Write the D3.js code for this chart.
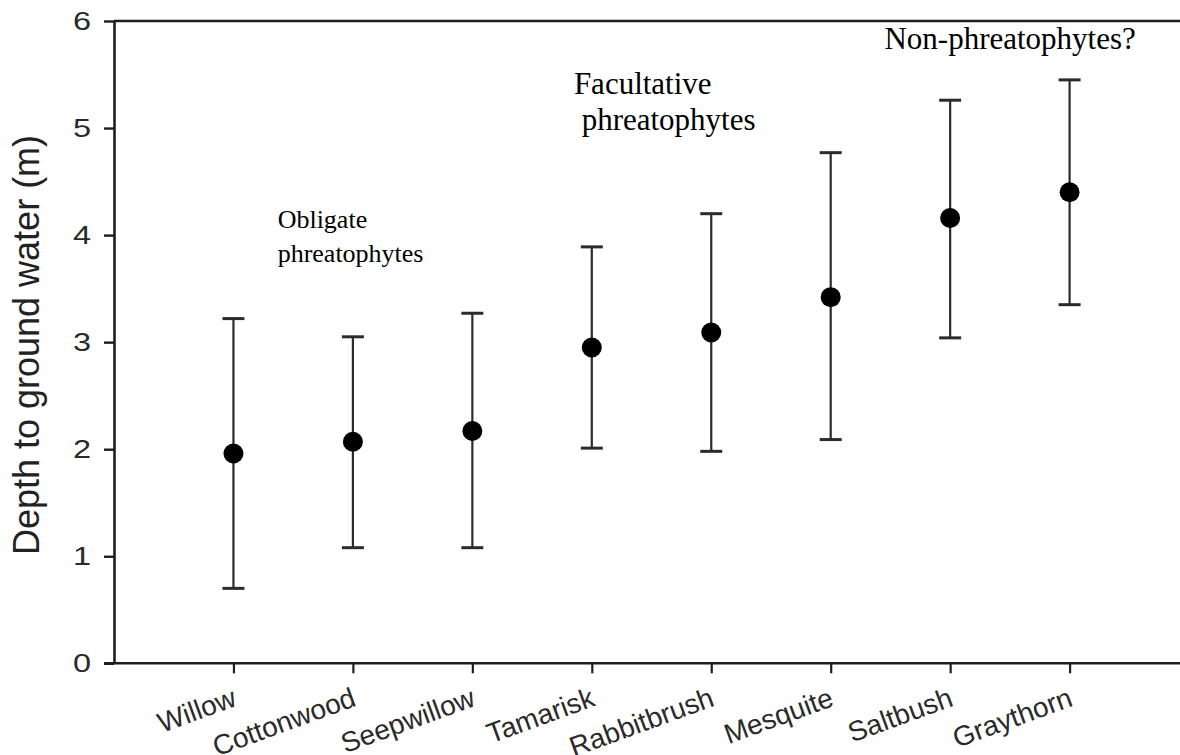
<!DOCTYPE html>
<html>
<head>
<meta charset="utf-8">
<script src="https://cdn.jsdelivr.net/npm/d3@7"></script>
<style>
  html, body { margin: 0; padding: 0; background: #fff; }
  svg { display: block; }
</style>
</head>
<body>
<svg id="chart" width="1180" height="755"></svg>
<script>
// ---- data ----
const categories = ["Willow", "Cottonwood", "Seepwillow", "Tamarisk", "Rabbitbrush", "Mesquite", "Saltbush", "Graythorn"];
const means = [1.96, 2.07, 2.17, 2.95, 3.09, 3.42, 4.16, 4.40];
const lowers = [0.70, 1.08, 1.08, 2.01, 1.98, 2.09, 3.04, 3.35];
const uppers = [3.22, 3.05, 3.27, 3.89, 4.20, 4.77, 5.26, 5.45];
const yTicks = [0, 1, 2, 3, 4, 5, 6];
const yTitle = "Depth to ground water (m)";
const groupLabels = [
  { lines: ["Obligate", "phreatophytes"], pos: 1.37, val: 4.07, size: 26, gap: 34 },
  { lines: ["Facultative", " phreatophytes"], pos: 3.85, val: 5.32, size: 31, gap: 36 },
  { lines: ["Non-phreatophytes?"], pos: 6.45, val: 5.74, size: 31, gap: 0 }
];

(function () {
const rows = categories.map((c, i) => ({ cat: c, idx: i + 1, mean: means[i], lo: lowers[i], hi: uppers[i] }));

const svg = d3.select("#chart");
const mLeft = 114, mRight = 1180, mTop = 21, mBottom = 663.3;

const x = d3.scaleLinear().domain([0, 9]).range([mLeft, mLeft + 9 * 119.45]);
const y = d3.scaleLinear().domain([0, 6]).range([mBottom, mTop]);

const ink = "#1e1e1e";

// top frame line
svg.append("line")
  .attr("x1", mLeft).attr("x2", mRight)
  .attr("y1", y(6)).attr("y2", y(6))
  .attr("stroke", ink).attr("stroke-width", 2.6);

// y axis
const yAxis = svg.append("g")
  .attr("transform", `translate(${mLeft},0)`)
  .call(d3.axisLeft(y).tickValues(yTicks).tickFormat(d3.format("d")).tickSize(10).tickSizeOuter(0));
yAxis.select(".domain").attr("stroke", ink).attr("stroke-width", 2.6);
yAxis.selectAll(".tick line").attr("stroke", ink).attr("stroke-width", 2.4);
yAxis.selectAll(".tick text")
  .attr("fill", "#2a2a2a")
  .attr("x", 0)
  .attr("text-anchor", "end")
  .attr("transform", "translate(-23,0) scale(1.25,1)")
  .style("font-family", "'Liberation Sans', Arial, sans-serif")
  .style("font-size", "26px");

// x axis
const xAxis = svg.append("g")
  .attr("transform", `translate(0,${mBottom})`)
  .call(d3.axisBottom(x).tickValues(rows.map(r => r.idx)).tickFormat((d) => categories[d - 1]).tickSize(10).tickSizeOuter(0));
xAxis.select(".domain").remove();
xAxis.append("line")
  .attr("x1", mLeft - 10).attr("x2", mRight)
  .attr("y1", 0).attr("y2", 0)
  .attr("stroke", ink).attr("stroke-width", 2.6);
xAxis.selectAll(".tick line").attr("stroke", ink).attr("stroke-width", 2.2);
xAxis.selectAll(".tick text")
  .attr("fill", "#2a2a2a")
  .style("font-family", "'Liberation Sans', Arial, sans-serif")
  .style("font-size", "28px")
  .attr("text-anchor", "end")
  .attr("y", 0).attr("dy", 0)
  .attr("transform", "translate(4,42) rotate(-20)");

// error bars
const capW = 11;
const g = svg.append("g");
g.selectAll("line.whisker").data(rows).join("line")
  .attr("class", "whisker")
  .attr("x1", d => x(d.idx)).attr("x2", d => x(d.idx))
  .attr("y1", d => y(d.lo)).attr("y2", d => y(d.hi))
  .attr("stroke", "#2b2b2b").attr("stroke-width", 2.2);
g.selectAll("line.capHi").data(rows).join("line")
  .attr("class", "capHi")
  .attr("x1", d => x(d.idx) - capW).attr("x2", d => x(d.idx) + capW)
  .attr("y1", d => y(d.hi)).attr("y2", d => y(d.hi))
  .attr("stroke", "#2b2b2b").attr("stroke-width", 3);
g.selectAll("line.capLo").data(rows).join("line")
  .attr("class", "capLo")
  .attr("x1", d => x(d.idx) - capW).attr("x2", d => x(d.idx) + capW)
  .attr("y1", d => y(d.lo)).attr("y2", d => y(d.lo))
  .attr("stroke", "#2b2b2b").attr("stroke-width", 3);
g.selectAll("circle.mean").data(rows).join("circle")
  .attr("class", "mean")
  .attr("cx", d => x(d.idx)).attr("cy", d => y(d.mean))
  .attr("r", 10).attr("fill", "#000");

// y title
svg.append("text")
  .attr("transform", `translate(39,345) rotate(-90)`)
  .attr("text-anchor", "middle")
  .attr("fill", "#222")
  .style("font-family", "'Liberation Sans', Arial, sans-serif")
  .style("font-size", "36px")
  .text(yTitle);

// group annotations
groupLabels.forEach(gl => {
  const t = svg.append("text")
    .attr("x", x(gl.pos)).attr("y", y(gl.val))
    .attr("fill", "#000")
    .style("font-family", "'Liberation Serif', 'Times New Roman', serif")
    .style("font-size", gl.size + "px")
    .style("white-space", "pre");
  gl.lines.forEach((ln, i) => {
    t.append("tspan").attr("x", x(gl.pos)).attr("dy", i === 0 ? 0 : gl.gap).text(ln);
  });
});
})();
</script>
</body>
</html>
